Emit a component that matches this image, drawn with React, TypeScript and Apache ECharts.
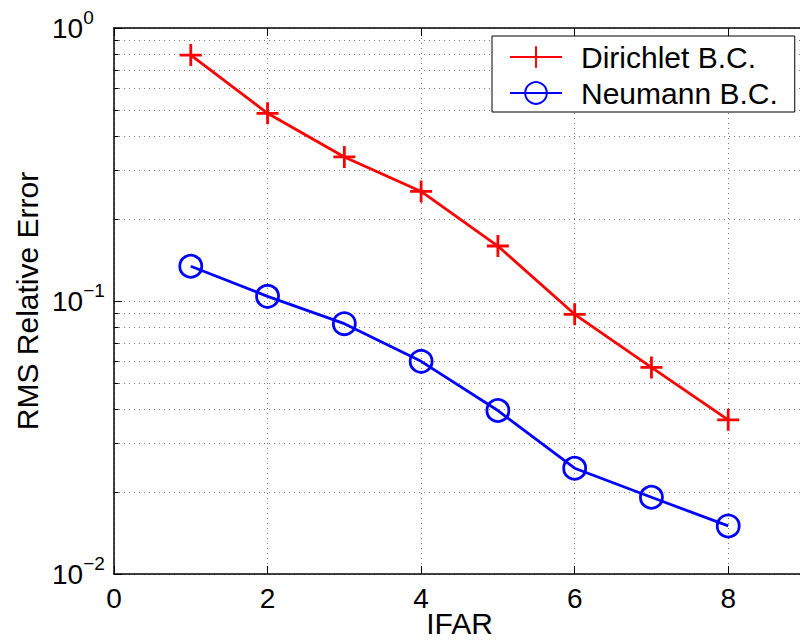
import React, { useEffect, useRef } from "react";
import * as echarts from "echarts";

const xValues = [1, 2, 3, 4, 5, 6, 7, 8];
const dirichlet = [0.796, 0.487, 0.337, 0.252, 0.159, 0.0894, 0.0571, 0.0367];
const neumann = [0.134, 0.104, 0.0826, 0.0601, 0.0397, 0.0244, 0.0191, 0.015];
const seriesNames = ["Dirichlet B.C.", "Neumann B.C."];
const xAxisTitle = "IFAR";
const yAxisTitle = "RMS Relative Error";
const decades = [0.01, 0.1];
const minorFactors = [2, 3, 4, 5, 6, 7, 8, 9];

const FONT = "'Liberation Sans', Arial, Helvetica, sans-serif";

export default function App() {
  const ref = useRef<HTMLDivElement>(null);

  useEffect(() => {
    document.body.style.margin = "0";
    if (!ref.current) return;
    const chart = echarts.init(ref.current, undefined, { renderer: "svg" });

    const minorVals: number[] = [];
    decades.forEach((d) => minorFactors.forEach((f) => minorVals.push(+(d * f).toPrecision(3))));

    const gridLine = { color: "#777", width: 1, type: [1, 4] as any };

    const markLineData: any[] = [];
    minorVals.forEach((v) => {
      markLineData.push({ yAxis: v, lineStyle: gridLine });
      markLineData.push([
        { coord: [0, v], lineStyle: { color: "#000", width: 1, type: "solid" } },
        { coord: [0.06, v] },
      ]);
    });

    const supFmt = (v: number) => {
      const e = Math.round(Math.log10(v));
      const s = e < 0 ? "\u2212" + Math.abs(e) : String(e);
      return "{b|10}{s|" + s + "}";
    };

    chart.setOption({
      animation: false,
      backgroundColor: "#fff",
      textStyle: { fontFamily: FONT },
      grid: {
        left: 114,
        top: 28,
        width: 691,
        height: 546,
        containLabel: false,
        outerBoundsMode: "none",
      },
      legend: {
        orient: "vertical",
        left: 492,
        top: 36,
        backgroundColor: "#fff",
        borderColor: "#000",
        borderWidth: 1,
        borderRadius: 0,
        padding: [6, 17, 4, 17],
        itemWidth: 52,
        itemHeight: 27,
        itemGap: 6,
        textStyle: { fontSize: 30, color: "#000", fontFamily: FONT, lineHeight: 30, padding: [0, 0, 0, 14] },
        data: seriesNames,
      },
      xAxis: [
        {
          type: "value",
          min: 0,
          max: 9,
          interval: 2,
          position: "bottom",
          name: xAxisTitle,
          nameLocation: "middle",
          nameGap: 34,
          nameMoveOverlap: false,
          nameTextStyle: { fontSize: 30, lineHeight: 30, color: "#000", fontFamily: FONT },
          axisLine: { show: true, onZero: false, lineStyle: { color: "#000", width: 1.5 } },
          axisTick: { show: true, inside: true, length: 8, lineStyle: { color: "#000", width: 1 } },
          axisLabel: { fontSize: 28, color: "#000", margin: 10, fontFamily: FONT, showMaxLabel: false },
          splitLine: { show: true, lineStyle: gridLine },
        },
        {
          type: "value",
          min: 0,
          max: 9,
          interval: 2,
          position: "top",
          axisLine: { show: true, onZero: false, lineStyle: { color: "#000", width: 1.5 } },
          axisTick: { show: true, inside: true, length: 8, lineStyle: { color: "#000", width: 1 } },
          axisLabel: { show: false },
          splitLine: { show: false },
        },
      ],
      yAxis: {
        type: "log",
        logBase: 10,
        min: 0.01,
        max: 1,
        name: yAxisTitle,
        nameLocation: "middle",
        nameRotate: 90,
        nameGap: 72,
        nameMoveOverlap: false,
        nameTextStyle: { fontSize: 30, color: "#000", fontFamily: FONT },
        axisLine: { show: true, onZero: false, lineStyle: { color: "#000", width: 1.5 } },
        axisTick: { show: true, inside: true, length: 8, lineStyle: { color: "#000", width: 1 } },
        axisLabel: {
          formatter: supFmt,
          align: "left",
          margin: 62,
          rich: {
            b: { fontSize: 28, color: "#000", fontFamily: FONT },
            s: { fontSize: 19, color: "#000", fontFamily: FONT, padding: [0, 0, 22, 0] },
          },
        },
        splitLine: { show: true, lineStyle: gridLine },
      },
      series: [
        {
          name: seriesNames[0],
          type: "line",
          data: xValues.map((x, i) => [x, dirichlet[i]]),
          symbol: "path://M10,0L10,20M0,10L20,10",
          symbolSize: 22,
          lineStyle: { color: "#ff0000", width: 2.8 },
          itemStyle: { color: "#ff0000", borderColor: "#ff0000", borderWidth: 2.8 },
          z: 5,
          markLine: {
            silent: true,
            symbol: "none",
            label: { show: false },
            emphasis: { disabled: true },
            data: markLineData,
            z: 1,
          },
        },
        {
          name: seriesNames[1],
          type: "line",
          data: xValues.map((x, i) => [x, neumann[i]]),
          symbol: "circle",
          symbolSize: 22,
          lineStyle: { color: "#0000ff", width: 2.8 },
          itemStyle: { color: "rgba(0,0,0,0)", borderColor: "#0000ff", borderWidth: 2.8 },
          z: 5,
        },
      ],
    });

    return () => chart.dispose();
  }, []);

  return <div ref={ref} style={{ width: 800, height: 642 }} />;
}
